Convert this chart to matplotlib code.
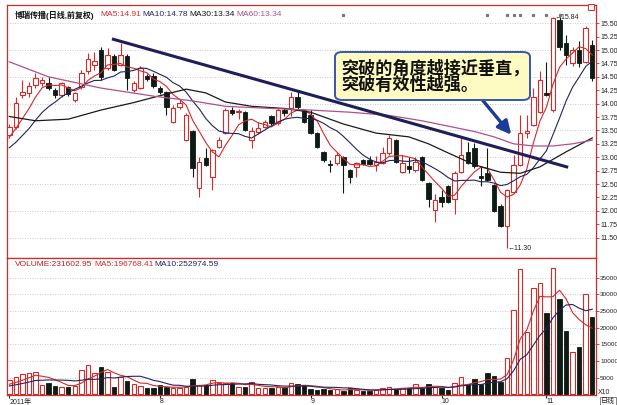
import numpy as np
import pandas as pd
import matplotlib
matplotlib.use('Agg')
import matplotlib.pyplot as plt
from matplotlib.patches import FancyBboxPatch, Rectangle
import matplotlib.transforms as mtransforms

plt.rcParams['font.family'] = ['Liberation Sans', 'Noto Sans CJK SC']

# daily candles, 博瑞传播 2011
opens = [13.42, 13.57, 14.16, 14.19, 14.35, 14.38, 14.39, 14.26, 14.16, 14.31,
         14.07, 14.31, 14.60, 14.72, 15.00, 14.66, 14.89, 14.72, 14.88, 14.26,
         14.29, 14.52, 14.52, 14.29, 14.22, 13.66, 13.93, 13.32, 13.48, 12.42,
         12.98, 12.64, 13.19, 13.45, 13.88, 13.84, 13.85, 13.32, 13.48, 13.57,
         13.76, 13.63, 13.88, 13.91, 14.13, 13.88, 13.79, 13.45, 13.10, 12.87,
         12.89, 13.01, 12.76, 12.81, 12.95, 12.95, 12.86, 12.89, 13.07, 13.32,
         12.73, 12.83, 12.76, 13.01, 12.51, 12.02, 12.26, 12.46, 12.23, 12.73,
         13.10, 13.17, 12.65, 12.70, 12.48, 12.09, 11.71, 12.36, 12.86, 13.45,
         13.60, 13.85, 14.19, 13.88, 15.56, 15.13, 14.75, 15.00, 14.78, 15.10]
highs = [13.62, 14.13, 14.44, 14.40, 14.58, 14.50, 14.50, 14.30, 14.40, 14.33,
         14.22, 14.63, 14.95, 14.97, 15.06, 15.03, 14.92, 15.14, 14.92, 14.42,
         14.70, 14.55, 14.58, 14.33, 14.24, 13.97, 14.08, 13.82, 13.50, 13.00,
         13.17, 13.16, 13.38, 13.91, 13.93, 13.90, 13.87, 13.57, 13.65, 13.70,
         13.78, 13.91, 13.91, 14.22, 14.22, 13.90, 13.88, 13.47, 13.12, 12.95,
         13.10, 13.03, 12.78, 12.92, 12.97, 13.02, 13.02, 13.20, 13.42, 13.34,
         13.04, 13.01, 13.01, 13.03, 12.53, 12.32, 12.38, 12.48, 12.75, 13.35,
         13.28, 13.26, 12.83, 13.17, 12.50, 12.12, 12.41, 13.05, 13.79, 13.79,
         14.30, 14.60, 14.78, 15.62, 15.62, 15.28, 15.05, 15.16, 15.45, 15.18]
lows = [13.35, 13.52, 14.10, 14.12, 14.30, 14.33, 14.25, 14.10, 14.12, 14.15,
        14.03, 14.28, 14.55, 14.63, 14.45, 14.62, 14.60, 14.70, 14.26, 14.22,
        14.27, 14.42, 14.30, 14.18, 13.79, 13.64, 13.90, 13.30, 12.64, 12.26,
        12.84, 12.39, 13.17, 13.43, 13.78, 13.72, 13.49, 13.17, 13.43, 13.55,
        13.60, 13.60, 13.76, 13.76, 13.90, 13.63, 13.43, 13.18, 12.92, 12.72,
        12.86, 12.33, 12.52, 12.63, 12.85, 12.85, 12.75, 12.87, 13.05, 12.90,
        12.70, 12.70, 12.72, 12.55, 12.08, 11.80, 12.08, 12.15, 11.95, 12.70,
        12.87, 12.80, 12.47, 12.55, 11.97, 11.70, 11.30, 12.34, 12.84, 13.36,
        13.58, 13.83, 14.14, 13.85, 15.00, 14.72, 14.70, 14.68, 14.76, 14.43]
closes = [13.57, 14.01, 14.22, 14.33, 14.47, 14.44, 14.29, 14.16, 14.38, 14.18,
          14.19, 14.58, 14.83, 14.80, 14.49, 14.91, 14.63, 14.91, 14.47, 14.39,
          14.66, 14.46, 14.32, 14.22, 13.94, 13.91, 14.01, 13.79, 12.79, 12.92,
          12.86, 13.14, 13.32, 13.88, 13.82, 13.86, 13.51, 13.48, 13.54, 13.66,
          13.63, 13.88, 13.82, 14.13, 13.94, 13.66, 13.45, 13.20, 12.95, 12.85,
          13.04, 12.86, 12.64, 12.90, 12.87, 12.87, 12.92, 13.07, 13.35, 12.92,
          12.89, 12.78, 12.92, 12.58, 12.23, 12.20, 12.17, 12.17, 12.70, 13.04,
          12.89, 12.83, 12.61, 12.58, 11.99, 11.72, 12.39, 12.86, 13.45, 13.48,
          14.13, 14.44, 14.16, 15.59, 15.06, 14.91, 15.00, 14.75, 15.41, 14.47]
# closes before the window (only used for MA5 / MA10)
pre_closes = [13.00, 12.95, 13.05, 12.90, 13.00, 13.20, 13.30, 13.40, 13.40]

# volume (x10)
volume = [4300, 5300, 6000, 6300, 6800, 2800, 3500, 2500, 2300, 2300,
          2500, 7300, 8800, 6300, 8100, 6800, 2300, 5100, 4100, 3000,
          2500, 1800, 2000, 2800, 2300, 1800, 1800, 2300, 4500, 2800,
          2800, 4300, 3500, 3300, 3300, 2300, 2300, 3800, 1800, 1800,
          1800, 2300, 2100, 3500, 3000, 2800, 1600, 1300, 1500, 1300,
          1500, 1000, 2000, 1300, 1000, 1000, 1300, 2000, 2300, 1600,
          1800, 2000, 3000, 1800, 3100, 2300, 1800, 1300, 3300, 5300,
          3100, 4500, 3000, 6300, 5400, 3800, 11000, 25300, 37500, 18800,
          31800, 33400, 24500, 37800, 28500, 19000, 12600, 14100, 30100, 23160]
pre_volume = [1800, 2000, 2200, 1900, 2100, 2600, 2800, 2500, 3000]

# MA30 / MA60 (candle index, price)
ma30_idx = [0, 4, 9, 14, 19, 24, 27, 30, 33, 37, 42, 46, 51, 56, 61, 64, 67, 71, 75, 78, 81, 85, 89]
ma30_val = [13.76, 13.68, 13.71, 13.88, 14.02, 14.18, 14.27, 14.20, 14.03, 13.95, 13.91, 13.84,
            13.62, 13.45, 13.38, 13.25, 13.08, 12.86, 12.72, 12.70, 12.82, 13.10, 13.36]
ma60_idx = [0, 6, 14, 22, 28, 33, 40, 46, 52, 58, 63, 67, 71, 74, 77, 80, 83, 86, 89]
ma60_val = [14.78, 14.50, 14.29, 14.14, 14.05, 13.95, 13.91, 13.88, 13.84, 13.78, 13.68, 13.58,
            13.48, 13.38, 13.25, 13.21, 13.21, 13.25, 13.32]

month_idx = [0, 23, 46, 66, 82]
month_lbl = ['2011年', '8', '9', '10', '11']
event_idx = [51, 73, 76, 77, 78, 80, 82, 84]

RED = '#d42a2a'
BLK = '#0e1a14'
NAVY = '#23235e'
PINK = '#b0508a'

n = len(closes)
x = np.arange(n)
o = np.array(opens); c = np.array(closes); h = np.array(highs); l = np.array(lows)
up = c >= o
v = np.array(volume)

cl_all = pd.Series(pre_closes + closes)
ma5 = cl_all.rolling(5).mean().values[len(pre_closes):]
ma10 = cl_all.rolling(10).mean().values[len(pre_closes):]
vol_all = pd.Series(pre_volume + volume)
vma5 = vol_all.rolling(5).mean().values[len(pre_volume):]
vma10 = vol_all.rolling(10).mean().values[len(pre_volume):]

W, H = 617, 405
fig = plt.figure(figsize=(W / 100, H / 100), dpi=100)
ax = fig.add_axes([7 / W, (H - 258) / H, 589 / W, 253 / H])
axv = fig.add_axes([7 / W, (H - 395) / H, 589 / W, 137 / H])

# ---- price panel
cw = 0.68
ax.vlines(x, l, h, color=np.where(up, RED, BLK), lw=0.8, zorder=2)
body = np.maximum(np.abs(c - o), 0.012)
ax.bar(x[up], body[up], bottom=np.minimum(o, c)[up], width=cw, facecolor='white',
       edgecolor=RED, lw=0.8, zorder=3)
ax.bar(x[~up], body[~up], bottom=np.minimum(o, c)[~up], width=cw, facecolor=BLK,
       edgecolor=BLK, lw=0.6, zorder=3)

ax.plot(x, ma5, color=RED, lw=0.8, zorder=4)
ax.plot(x, ma10, color=NAVY, lw=0.8, zorder=4)
ax.plot(ma30_idx, ma30_val, color='#1a1a1a', lw=0.9, zorder=4)
ax.plot(ma60_idx, ma60_val, color=PINK, lw=0.9, zorder=4)

# down trend line
ax.plot([15.9, 85.1], [15.20, 12.82], color='#1e1e5a', lw=2.2, zorder=5)

# event markers on top
trans = mtransforms.blended_transform_factory(ax.transData, ax.transAxes)
ax.plot(event_idx, [0.96] * len(event_idx), 's', ms=1.3, color='#777777', transform=trans)

ax.set_xlim(-0.35, 89.57)
ax.set_ylim(11.12, 15.84)
ax.set_yticks(np.arange(11.5, 15.51, 0.25))
ax.set_yticklabels(['%.2f' % t for t in np.arange(11.5, 15.51, 0.25)])
for g in np.arange(11.5, 15.51, 0.5):
    ax.axhline(g, color='#b8b8b8', lw=0.6, ls=(0, (1, 2)), zorder=1)
ax.set_xticks([])

# high / low marks
ax.text(83.3, 15.61, '←15.84', fontsize=5, color='#222222', va='center', ha='left')
ax.text(76.1, 11.30, '←11.30', fontsize=5, color='#222222', va='center', ha='left')

# breakout arrow
ax.annotate('', xy=(76.9, 13.38), xytext=(71.4, 14.19),
            arrowprops=dict(arrowstyle='-|>,head_length=0.8,head_width=0.4',
                            color='#1c3c99', lw=2.4), zorder=6)

# ---- volume panel
axv.bar(x[up], v[up], width=cw, facecolor='white', edgecolor=RED, lw=0.8, zorder=3)
axv.bar(x[~up], v[~up], width=cw, facecolor=BLK, edgecolor=BLK, lw=0.6, zorder=3)
axv.plot(x, vma5, color=RED, lw=0.8, zorder=4)
axv.plot(x, vma10, color=NAVY, lw=0.8, zorder=4)
axv.set_xlim(-0.35, 89.57)
axv.set_ylim(-180, 40840)
axv.set_yticks(range(5000, 35001, 5000))
axv.set_yticklabels([str(t) for t in range(5000, 35001, 5000)])
for g in range(5000, 35001, 5000):
    axv.axhline(g, color='#b8b8b8', lw=0.6, ls=(0, (1, 2)), zorder=1)
axv.set_xticks(month_idx)
axv.set_xticklabels(month_lbl)

for a in (ax, axv):
    a.yaxis.tick_right()
    a.tick_params(axis='y', colors=RED, length=2, width=0.6, labelsize=5, labelcolor='#222222', pad=1)
    for s in a.spines.values():
        s.set_color(RED)
        s.set_linewidth(0.9)
axv.tick_params(axis='y', labelsize=4.6)
axv.tick_params(axis='x', colors='#222222', length=2, labelsize=5, pad=0.5)
for t in axv.get_xticklabels():
    t.set_ha('left')

# little window icon in the top right corner
fig.patches.append(Rectangle((588 / W, 1 - 10 / H), 6 / W, 6 / H, transform=fig.transFigure,
                             facecolor='white', edgecolor=RED, lw=0.7, zorder=12))

# ---- header texts
y1 = 1 - 15 / H
fig.text(15 / W, y1, '博瑞传播(日线,前复权)', fontsize=5.8, color='#111111', va='center', weight='bold')
fig.text(100 / W, y1, 'MA5:14.91', fontsize=6, color=RED, va='center')
fig.text(142 / W, y1, 'MA10:14.78', fontsize=6, color=NAVY, va='center')
fig.text(189 / W, y1, 'MA30:13.34', fontsize=6, color='#111111', va='center')
fig.text(236 / W, y1, 'MA60:13.34', fontsize=6, color=PINK, va='center')

y2 = 1 - 265 / H
fig.text(15 / W, y2, 'VOLUME:231602.95', fontsize=6, color='#b22222', va='center')
fig.text(94 / W, y2, 'MA5:196768.41', fontsize=6, color=RED, va='center')
fig.text(154 / W, y2, 'MA10:252974.59', fontsize=6, color=NAVY, va='center')

fig.text(598 / W, 1 - 392 / H, 'X10', fontsize=5, color='#222222', va='center')
fig.text(601 / W, 1 - 401 / H, '日线', fontsize=5, color='#222222', va='center',
         bbox=dict(boxstyle='square,pad=0.1', fc='white', ec='#555555', lw=0.5))

# ---- callout box
box = FancyBboxPatch((335 / W, 1 - 100 / H), 195 / W, 48 / H,
                     boxstyle='round,pad=0,rounding_size=0.012',
                     transform=fig.transFigure, facecolor='#fdfbc2',
                     edgecolor='#3a55a8', lw=1.4, zorder=10)
fig.patches.append(box)
fig.text(341 / W, 1 - 68 / H, '突破的角度越接近垂直，', fontsize=12.3, color='#111111',
         va='center', weight='bold', zorder=11)
fig.text(341 / W, 1 - 84 / H, '突破有效性越强。', fontsize=12.3, color='#111111',
         va='center', weight='bold', zorder=11)

fig.savefig('out.png', dpi=100)
